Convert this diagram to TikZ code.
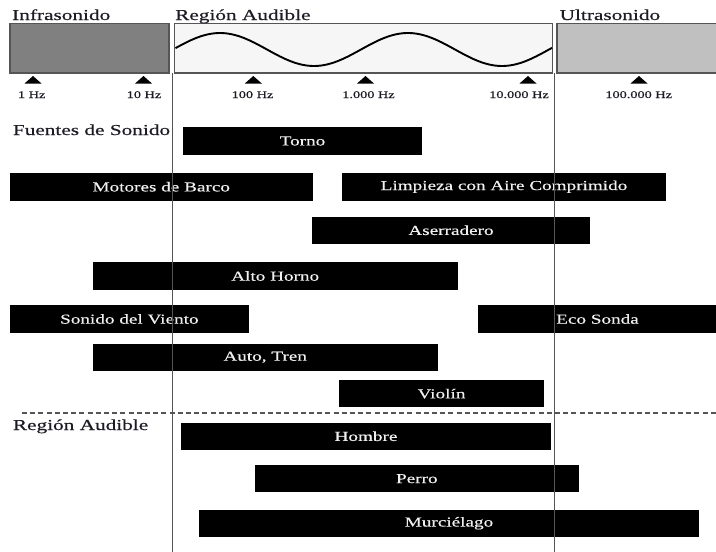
\documentclass[tikz,border=0pt]{standalone}
\usepackage{fontspec}
\setmainfont[FakeStretch=1.4, FakeBold=0.35]{Liberation Serif}
\definecolor{ink}{HTML}{1C1C24}
\definecolor{rule}{HTML}{555555}
\definecolor{infra}{HTML}{808080}
\definecolor{ultra}{HTML}{C0C0C0}
\definecolor{audible}{HTML}{F6F6F6}
\tikzset{
  title/.style={anchor=base west, inner sep=0pt, text=ink,
    font=\fontsize{15.2}{18}\selectfont},
  band/.style={draw=rule, line width=1.6pt, inner sep=0pt},
  hzlabel/.style={anchor=base, inner sep=0pt, text=ink,
    font=\fontsize{10.2}{12}\selectfont},
  srcbar/.style={fill=black, inner sep=0pt, text=white!94!black,
    font=\fontsize{13.7}{16}\selectfont},
  divider/.style={draw=rule, line width=1.8pt},
}
% source bar: name, x-left, x-right, y-top, y-bottom, label
\newcommand\srcbar[6]{%
  \node[srcbar, minimum width={#3-#2}, minimum height={#5-#4}]
    (#1) at ({(#2+#3)/2},{(#4+#5)/2}) {#6};}
\begin{document}
\begin{tikzpicture}[x=1pt,y=-1pt]
\useasboundingbox (0,0) rectangle (716,552);
\fill[white] (0,0) rectangle (716,552);

% frequency bands
\node[band, fill=infra, minimum width=159, minimum height=49.5] (infra) at (89.5,48.2) {};
\node[band, fill=audible, minimum width=378, minimum height=49.5] (aud) at (363.5,48.2) {};
\node[band, fill=ultra, minimum width=164, minimum height=49.5] (ultra) at (639,48.2) {};
\node[title] (tinfra) at (12,20) {Infrasonido};
\node[title] (taud) at (175,20) {Región Audible};
\node[title] (tultra) at (559.5,20) {Ultrasonido};

% wave inside the audible band (period 188)
\draw[line width=1.9pt, black] plot[domain=175.5:552, samples=120]
  (\x, {49.5-16.5*sin(1.91489*(\x-173))});

% frequency ticks
\foreach \tx/\lx/\lab in {33/31.7/1 Hz, 143.5/144/10 Hz, 253.3/252.5/100 Hz,
    365.5/368.5/1.000 Hz, 528/519/10.000 Hz, 639/638.7/100.000 Hz}{
  \fill[black] (\tx-8.5,83.5) -- (\tx,76) -- (\tx+8.5,83.5) -- cycle;
  \node[hzlabel] at (\lx,98) {\lab};
}

% sound sources
\node[title] (tsrc) at (12.7,135) {Fuentes de Sonido};
\srcbar{torno}{183}{422}{127}{155}{Torno}
\srcbar{motores}{9.5}{313}{173}{200.5}{Motores de Barco}
\srcbar{limpieza}{342}{666}{173}{200.5}{Limpieza con Aire Comprimido}
\srcbar{aserradero}{312}{590}{216.5}{244}{Aserradero}
\srcbar{horno}{92.7}{457.7}{262}{290}{Alto Horno}
\srcbar{viento}{9.5}{249.3}{305}{333}{Sonido del Viento}
\srcbar{eco}{478}{717}{305}{333}{Eco Sonda}
\srcbar{auto}{92.7}{437.7}{343.5}{371}{Auto, Tren}
\srcbar{violin}{339}{544}{380}{407.3}{Violín}

% separator
\coordinate (sepL) at (22,413);
\coordinate (sepR) at (716,413);
\draw[draw=rule, line width=1.3pt, dash pattern=on 5pt off 3.2pt] (sepL) -- (sepR);

% hearing ranges
\node[title] (thear) at (12.7,430) {Región Audible};
\srcbar{hombre}{181}{551}{422.5}{450}{Hombre}
\srcbar{perro}{255}{578.7}{465}{492.3}{Perro}
\srcbar{murcielago}{199}{699}{509.7}{536.8}{Murciélago}

% limits of the audible region
\coordinate (lowTop) at (172.4,73);
\coordinate (lowBot) at (172.4,552);
\coordinate (highTop) at (554.5,73);
\coordinate (highBot) at (554.5,552);
\draw[divider] (lowTop) -- (lowBot);
\draw[divider] (highTop) -- (highBot);
\end{tikzpicture}
\end{document}
